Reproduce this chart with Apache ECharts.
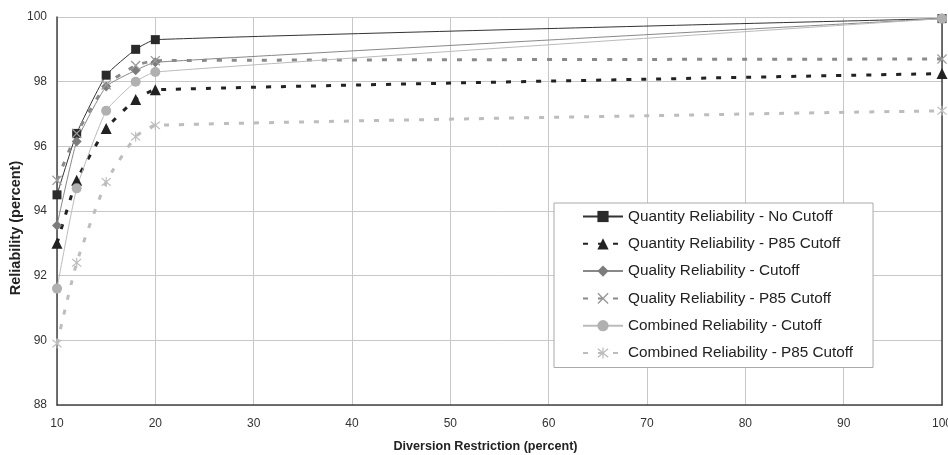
<!DOCTYPE html>
<html>
<head>
<meta charset="utf-8">
<script src="https://cdn.jsdelivr.net/npm/echarts@6/dist/echarts.min.js"></script>
<style>html,body{margin:0;padding:0;background:#fff}#c{width:948px;height:455px}</style>
</head>
<body>
<div id="c"></div>
<script>
var xValues = [10, 12, 15, 18, 20, 100];
var qtyNoCutoff = [94.5, 96.4, 98.2, 99.0, 99.3, 99.95];
var qtyP85 = [93.0, 94.95, 96.55, 97.45, 97.75, 98.25];
var qualCutoff = [93.55, 96.15, 97.85, 98.35, 98.6, 99.95];
var qualP85 = [94.95, 96.4, 97.9, 98.5, 98.65, 98.7];
var combCutoff = [91.6, 94.7, 97.1, 98.0, 98.3, 99.95];
var combP85 = [89.9, 92.4, 94.9, 96.3, 96.65, 97.1];
var seriesNames = [
  'Quantity Reliability - No Cutoff',
  'Quantity Reliability - P85 Cutoff',
  'Quality Reliability - Cutoff',
  'Quality Reliability - P85 Cutoff',
  'Combined Reliability - Cutoff',
  'Combined Reliability - P85 Cutoff'
];

function pairs(vals) { return xValues.map(function (x, i) { return [x, vals[i]]; }); }

var xSym = 'path://M0,0.9 L0.9,0 L5,4.1 L9.1,0 L10,0.9 L5.9,5 L10,9.1 L9.1,10 L5,5.9 L0.9,10 L0,9.1 L4.1,5 Z';
var starSym = 'path://M0,0.9 L0.9,0 L5,4.1 L9.1,0 L10,0.9 L5.9,5 L10,9.1 L9.1,10 L5,5.9 L0.9,10 L0,9.1 L4.1,5 Z M4.45,-1 L5.55,-1 L5.55,11 L4.45,11 Z';

function mk(name, vals, color, width, dashed, symbol, size, symColor) {
  return {
    name: name, type: 'line', data: pairs(vals), smooth: 0.15,
    symbol: symbol, symbolSize: size,
    lineStyle: { color: color, width: width, type: dashed ? [5, 10] : 'solid' },
    itemStyle: { color: symColor, borderWidth: 0 },
    z: 3
  };
}

var chart = echarts.init(document.getElementById('c'), null, { renderer: 'canvas' });
chart.setOption({
  animation: false,
  backgroundColor: '#fff',
  textStyle: { fontFamily: 'Liberation Sans, Arial, sans-serif' },
  grid: { left: 57, right: 6, top: 17, bottom: 50, containLabel: false, outerBoundsMode: 'none' },
  legend: {
    orient: 'vertical', left: 554, top: 203,
    padding: [6, 20, 7, 28], itemGap: 12.3, itemWidth: 40, itemHeight: 14,
    backgroundColor: '#fff', borderColor: '#aaa', borderWidth: 1,
    textStyle: { fontSize: 15.3, lineHeight: 14, color: '#222', fontFamily: 'Liberation Sans, Arial, sans-serif' },
    data: seriesNames
  },
  xAxis: {
    type: 'value', min: 10, max: 100, interval: 10,
    name: 'Diversion Restriction (percent)', nameLocation: 'middle', nameGap: 35,
    nameMoveOverlap: false,
    nameTextStyle: { fontSize: 12.6, fontWeight: 'bold', color: '#222', padding: [0, 28, 0, 0] },
    axisLine: { show: true, lineStyle: { color: '#444', width: 1.5 } },
    axisTick: { show: false },
    axisLabel: { fontSize: 12, color: '#333', margin: 13 },
    splitLine: { show: true, lineStyle: { color: '#c8c8c8', width: 1 } }
  },
  yAxis: [{
    type: 'value', min: 88, max: 100, interval: 2,
    name: 'Reliability (percent)', nameLocation: 'middle', nameGap: 34, nameRotate: 90,
    nameMoveOverlap: false,
    nameTextStyle: { fontSize: 14.5, fontWeight: 'bold', color: '#222', padding: [0, 34, 0, 0] },
    axisLine: { show: true, lineStyle: { color: '#444', width: 1.5 } },
    axisTick: { show: false },
    axisLabel: { fontSize: 12, color: '#333', margin: 10 },
    splitLine: { show: true, lineStyle: { color: '#c8c8c8', width: 1 } }
  }, {
    type: 'value', min: 88, max: 100, interval: 2, position: 'right',
    axisLine: { show: true, onZero: false, lineStyle: { color: '#444', width: 1.5 } },
    axisTick: { show: false }, axisLabel: { show: false }, splitLine: { show: false }
  }],
  series: [
    mk(seriesNames[0], qtyNoCutoff, '#333', 1, false, 'rect', 9, '#2a2a2a'),
    mk(seriesNames[1], qtyP85, '#222', 3, true, 'triangle', 11, '#222'),
    mk(seriesNames[2], qualCutoff, '#888', 1, false, 'diamond', 10, '#7c7c7c'),
    mk(seriesNames[3], qualP85, '#8a8a8a', 3, true, xSym, 10, '#9a9a9a'),
    mk(seriesNames[4], combCutoff, '#bbb', 1, false, 'circle', 10, '#b0b0b0'),
    mk(seriesNames[5], combP85, '#bdbdbd', 3, true, starSym, 10, '#bcbcbc')
  ]
});
</script>
</body>
</html>
